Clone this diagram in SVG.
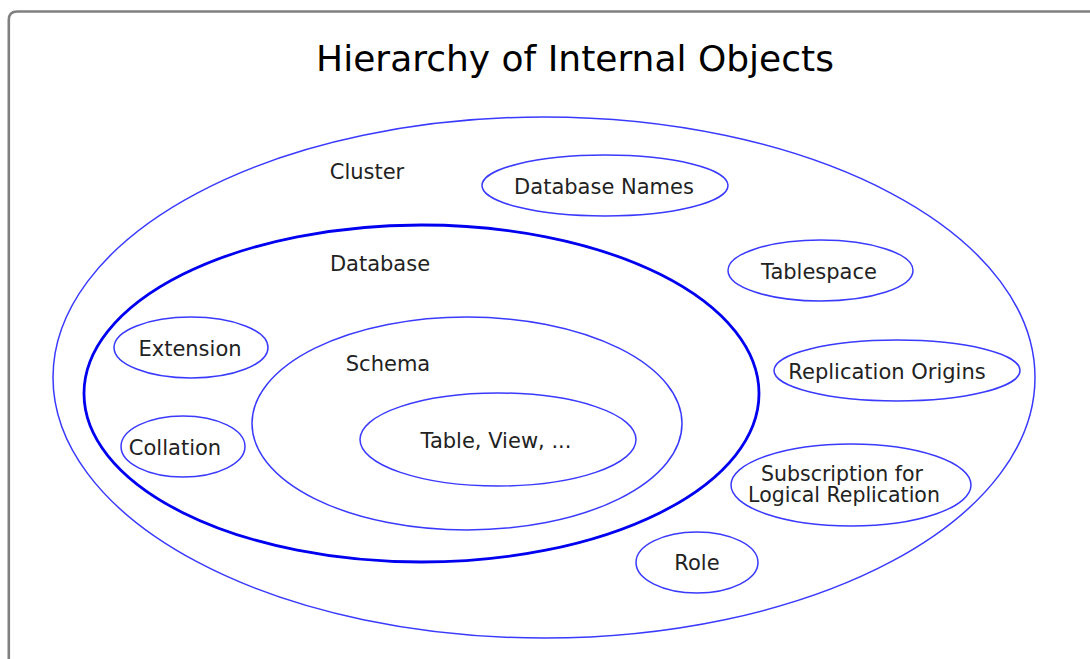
<svg xmlns="http://www.w3.org/2000/svg" width="1090" height="659" viewBox="0 0 1090 659">
  <style>
    .frame { fill: none; stroke: #808080; stroke-width: 2.6; }
    .title { font-family: "DejaVu Sans", sans-serif; font-size: 36px; fill: #000; text-anchor: middle; }
    .lbl { font-family: "DejaVu Sans", sans-serif; font-size: 21px; fill: #222; text-anchor: middle; }
    .lbl2 { font-family: "DejaVu Sans", sans-serif; font-size: 20.5px; fill: #222; text-anchor: middle; }
    .ell { fill: none; stroke: #3a3aff; stroke-width: 1.5; }
    .db { fill: none; stroke: #0000f0; stroke-width: 2.8; }
  </style>
  <rect width="1090" height="659" fill="#fff"/>
  <path class="frame" d="M8.8,662 V20 Q8.8,11.5 17.3,11.5 H1095"/>
  <text class="title" x="575" y="71">Hierarchy of Internal Objects</text>

  <g id="cluster">
    <ellipse class="ell" cx="544" cy="377.5" rx="491" ry="260.5"/>
    <text class="lbl" x="367" y="179">Cluster</text>
  </g>
  <g id="database-names">
    <ellipse class="ell" cx="605" cy="185.5" rx="123" ry="30.5"/>
    <text class="lbl" x="604" y="194">Database Names</text>
  </g>
  <g id="tablespace">
    <ellipse class="ell" cx="820.5" cy="270.5" rx="92.5" ry="30.5"/>
    <text class="lbl" x="819" y="279">Tablespace</text>
  </g>
  <g id="replication-origins">
    <ellipse class="ell" cx="897" cy="370.5" rx="123" ry="30.5"/>
    <text class="lbl" x="887" y="379">Replication Origins</text>
  </g>
  <g id="subscription">
    <ellipse class="ell" cx="851" cy="485" rx="120" ry="41"/>
    <text class="lbl2" x="842" y="481">Subscription for</text>
    <text class="lbl2" x="844" y="501.5">Logical Replication</text>
  </g>
  <g id="role">
    <ellipse class="ell" cx="697" cy="562.5" rx="61" ry="30.5"/>
    <text class="lbl" x="697" y="570">Role</text>
  </g>
  <g id="database">
    <ellipse class="db" cx="421.5" cy="393.5" rx="337.5" ry="168.5"/>
    <text class="lbl" x="380" y="271">Database</text>
  </g>
  <g id="extension">
    <ellipse class="ell" cx="191" cy="347.5" rx="77" ry="30.5"/>
    <text class="lbl" x="190" y="356">Extension</text>
  </g>
  <g id="collation">
    <ellipse class="ell" cx="183" cy="446.5" rx="62" ry="30.5"/>
    <text class="lbl" x="175" y="455">Collation</text>
  </g>
  <g id="schema">
    <ellipse class="ell" cx="467" cy="423.5" rx="215" ry="106.5"/>
    <text class="lbl" x="388" y="371">Schema</text>
  </g>
  <g id="table-view">
    <ellipse class="ell" cx="498" cy="439.5" rx="138" ry="46.5"/>
    <text class="lbl" x="496" y="448">Table, View, ...</text>
  </g>
  <g id="connectors"/>
</svg>
